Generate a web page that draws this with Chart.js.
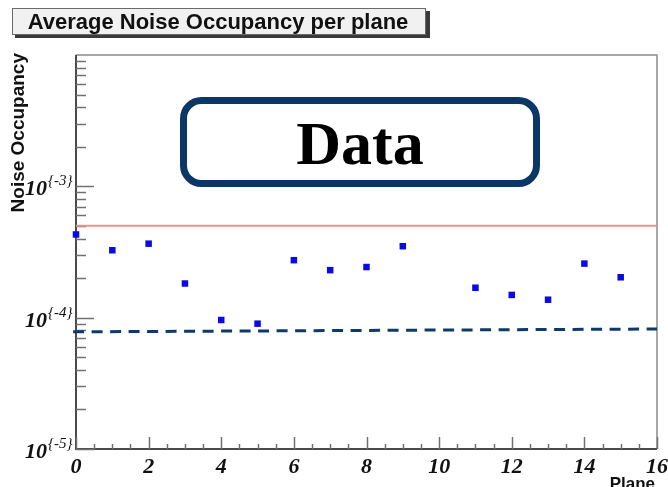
<!DOCTYPE html>
<html>
<head>
<meta charset="utf-8">
<title>Average Noise Occupancy per plane</title>
<script src="https://cdn.jsdelivr.net/npm/chart.js@4"></script>
<style>
  html, body { margin: 0; padding: 0; background: #ffffff; }
  canvas { display: block; }
</style>
</head>
<body>
<canvas id="occ" width="668" height="487"></canvas>
<script>
// Plane numbers and their average noise occupancy (plane 10 has no entry)
const planes = [0, 1, 2, 3, 4, 5, 6, 7, 8, 9, 11, 12, 13, 14, 15];
const occupancy = [4.30e-4, 3.26e-4, 3.66e-4, 1.82e-4, 9.6e-5, 9.0e-5, 2.74e-4, 2.30e-4,
                   2.43e-4, 3.50e-4, 1.69e-4, 1.49e-4, 1.37e-4, 2.58e-4, 2.03e-4];

// Reference levels
const limitX = [0, 16];
const limitLevel = [5.0e-4, 5.0e-4];        // red solid line
const baselineX = [-0.08, 16];
const baselineLevel = [7.8e-5, 8.2e-5];     // dashed line

// Axis ranges and tick labels
const xRange = [0, 16];
const yRange = [1e-5, 1e-2];
const xTickLabels = ['0', '2', '4', '6', '8', '10', '12', '14', '16'];
const yTickValues = [1e-5, 1e-4, 1e-3];
const yTickExponents = ['{-5}', '{-4}', '{-3}'];

const titleText = 'Average Noise Occupancy per plane';
const yTitle = 'Noise Occupancy';
const xTitle = 'Plane';
const boxText = 'Data';

const toPoints = (xs, ys) => xs.map((x, i) => ({ x: x, y: ys[i] }));

// Frame, ticks, labels and annotations drawn around the plot area
const decorations = {
  id: 'decorations',
  beforeDatasetsDraw(chart) {
    const { ctx, chartArea: a, scales } = chart;
    const xs = scales.x, ys = scales.y;
    ctx.save();

    // frame
    ctx.strokeStyle = '#8a8a8a';
    ctx.lineWidth = 1.5;
    ctx.beginPath();
    ctx.moveTo(a.left, a.top); ctx.lineTo(a.right, a.top); ctx.lineTo(a.right, a.bottom);
    ctx.stroke();
    ctx.strokeStyle = '#4a4a4a';
    ctx.lineWidth = 2;
    ctx.beginPath();
    ctx.moveTo(a.left, a.top); ctx.lineTo(a.left, a.bottom); ctx.lineTo(a.right, a.bottom);
    ctx.stroke();

    // y ticks (decades and their 2..9 subdivisions), drawn inward
    ctx.strokeStyle = '#707070';
    ctx.lineWidth = 1.5;
    for (let e = -5; e < -2; e++) {
      for (let m = 1; m <= 9; m++) {
        const v = m * Math.pow(10, e);
        const py = Math.round(ys.getPixelForValue(v)) + 0.5;
        const len = m === 1 ? 18 : 10;
        ctx.beginPath(); ctx.moveTo(a.left, py); ctx.lineTo(a.left + len, py); ctx.stroke();
      }
    }
    // x ticks every 0.5, longer every 2
    for (let t = xRange[0]; t <= xRange[1]; t += 0.5) {
      const px = Math.round(xs.getPixelForValue(t)) + 0.5;
      const len = (t % 2 === 0) ? 12 : 5;
      ctx.beginPath(); ctx.moveTo(px, a.bottom); ctx.lineTo(px, a.bottom - len); ctx.stroke();
    }

    // x tick labels
    ctx.fillStyle = '#111';
    ctx.font = 'italic bold 22px "Liberation Serif", "DejaVu Serif", serif';
    ctx.textAlign = 'center';
    ctx.textBaseline = 'alphabetic';
    xTickLabels.forEach(lbl => {
      ctx.fillText(lbl, xs.getPixelForValue(Number(lbl)), a.bottom + 24);
    });

    // y tick labels: 10 with a raised exponent
    yTickValues.forEach((v, i) => {
      const py = ys.getPixelForValue(v);
      ctx.font = 'italic bold 22px "Liberation Serif", "DejaVu Serif", serif';
      ctx.textAlign = 'right';
      ctx.fillText('10', 47, py + 9);
      ctx.font = 'italic 15px "Liberation Serif", "DejaVu Serif", serif';
      ctx.textAlign = 'left';
      ctx.fillText(yTickExponents[i], 48, py - 1);
    });

    // axis titles
    ctx.font = 'bold 17px "Liberation Sans", Arial, sans-serif';
    ctx.textAlign = 'right';
    ctx.fillText(xTitle, a.right - 2, a.bottom + 40);
    ctx.save();
    ctx.translate(24, 53);
    ctx.rotate(-Math.PI / 2);
    ctx.font = 'bold 19px "Liberation Sans", Arial, sans-serif';
    ctx.textAlign = 'right';
    ctx.fillText(yTitle, 0, 0);
    ctx.restore();

    ctx.restore();
  },
  afterDatasetsDraw(chart) {
    const { ctx } = chart;
    ctx.save();

    // title box with drop shadow
    ctx.fillStyle = '#3a3a3a';
    ctx.fillRect(15, 11, 415, 27);
    ctx.fillStyle = '#f1f1f1';
    ctx.fillRect(12, 8, 414, 27);
    ctx.strokeStyle = '#6a6a6a';
    ctx.lineWidth = 1;
    ctx.strokeRect(12.5, 8.5, 413, 26);
    ctx.fillStyle = '#111';
    ctx.font = 'bold 22px "Liberation Sans", Arial, sans-serif';
    ctx.textAlign = 'center';
    ctx.textBaseline = 'alphabetic';
    ctx.fillText(titleText, 218, 29);

    // rounded label box
    const bx = 183.5, by = 100.5, bw = 353, bh = 83, r = 18;
    ctx.beginPath();
    ctx.moveTo(bx + r, by);
    ctx.arcTo(bx + bw, by, bx + bw, by + bh, r);
    ctx.arcTo(bx + bw, by + bh, bx, by + bh, r);
    ctx.arcTo(bx, by + bh, bx, by, r);
    ctx.arcTo(bx, by, bx + bw, by, r);
    ctx.closePath();
    ctx.fillStyle = '#ffffff';
    ctx.fill();
    ctx.strokeStyle = '#0b3767';
    ctx.lineWidth = 7;
    ctx.stroke();
    ctx.fillStyle = '#000';
    ctx.font = 'bold 62px "Liberation Serif", "Times New Roman", serif';
    ctx.fillText(boxText, 360, 164);

    ctx.restore();
  }
};

new Chart(document.getElementById('occ'), {
  type: 'scatter',
  data: {
    datasets: [
      {
        label: 'Average noise occupancy',
        data: toPoints(planes, occupancy),
        pointStyle: 'rect',
        pointRadius: 4.6,
        pointHoverRadius: 4.6,
        backgroundColor: '#0a0ae6',
        borderWidth: 0,
        showLine: false,
        clip: false,
        order: 0
      },
      {
        label: 'Limit',
        data: toPoints(limitX, limitLevel),
        showLine: true,
        borderColor: '#ec8f8f',
        borderWidth: 2,
        pointRadius: 0,
        order: 2
      },
      {
        label: 'Baseline',
        data: toPoints(baselineX, baselineLevel),
        showLine: true,
        borderColor: '#0d3a6b',
        borderWidth: 3,
        borderDash: [11, 7.5],
        pointRadius: 0,
        clip: false,
        order: 1
      }
    ]
  },
  options: {
    responsive: false,
    animation: false,
    layout: { padding: { left: 76, right: 11, top: 55, bottom: 38 } },
    plugins: {
      legend: { display: false },
      tooltip: { enabled: false },
      title: { display: false }
    },
    scales: {
      x: { type: 'linear', min: xRange[0], max: xRange[1], display: false },
      y: { type: 'logarithmic', min: yRange[0], max: yRange[1], display: false }
    }
  },
  plugins: [decorations]
});
</script>
</body>
</html>
